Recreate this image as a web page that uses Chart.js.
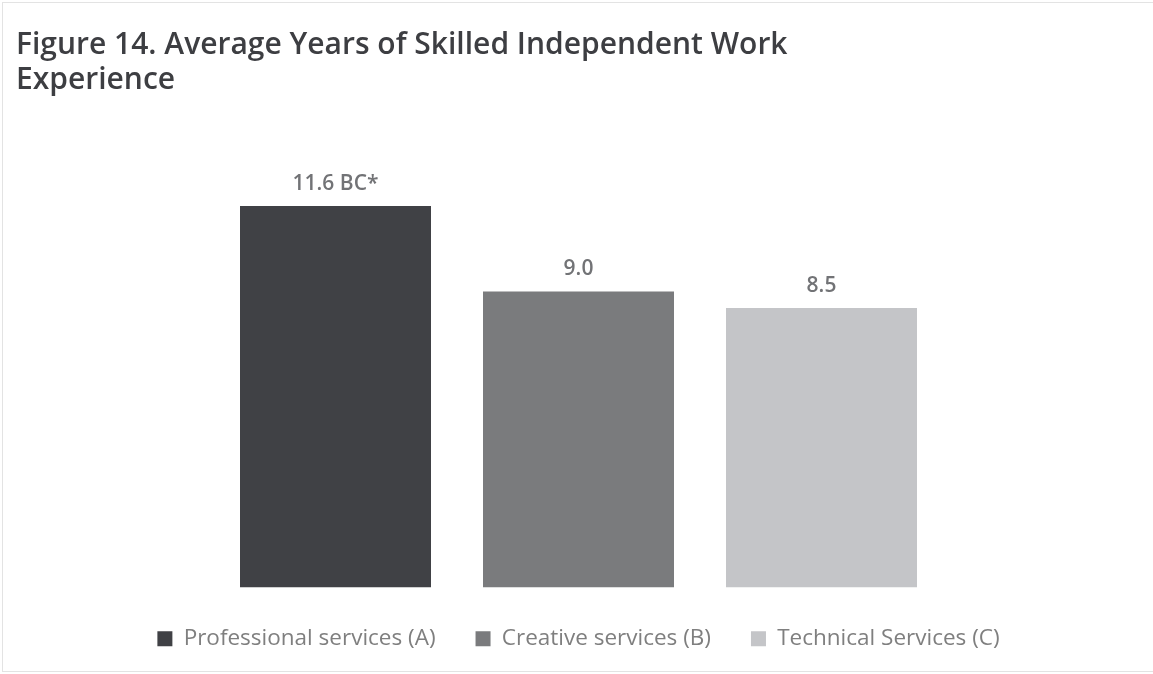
<!DOCTYPE html>
<html>
<head>
<meta charset="utf-8">
<script src="https://cdn.jsdelivr.net/npm/chart.js@4.4.1/dist/chart.umd.min.js"></script>
<style>
  html, body { margin: 0; padding: 0; background: #ffffff; }
  #wrap { position: relative; width: 1153px; height: 674px; }
  #frame { position: absolute; left: 2px; top: 2px; width: 1152px; height: 670px; border: 1px solid #e3e3e3; border-right: none; box-sizing: border-box; pointer-events: none; }
</style>
</head>
<body>
<div id="wrap">
  <canvas id="chart" width="1153" height="674"></canvas>
  <div id="frame"></div>
</div>
<script>
// Chart content
const titleLines = ['Figure 14. Average Years of Skilled Independent Work', 'Experience'];
const categories = ['Skilled independent work experience'];
const seriesLabels = ['Professional services (A)', 'Creative services (B)', 'Technical Services (C)'];
const seriesValues = [11.6, 9.0, 8.5];
const significance = ['BC*', '', ''];
const seriesColors = ['#404145', '#7a7b7d', '#c4c5c8'];

const FONT = '"Open Sans", Lato, sans-serif';

// Value label above each bar, with significance letters
const valueLabels = {
  id: 'valueLabels',
  afterDatasetsDraw(chart) {
    const ctx = chart.ctx;
    ctx.save();
    ctx.font = '600 21px ' + FONT;
    ctx.fillStyle = '#727376';
    ctx.textAlign = 'center';
    ctx.textBaseline = 'alphabetic';
    chart.data.datasets.forEach((ds, i) => {
      const bar = chart.getDatasetMeta(i).data[0];
      const txt = seriesValues[i].toFixed(1) + (significance[i] ? ' ' + significance[i] : '');
      ctx.fillText(txt, bar.x, bar.y - 16);
    });
    ctx.restore();
  }
};

// Extra room below the legend row
const legendSpacing = {
  id: 'legendSpacing',
  beforeInit(chart) {
    const fit = chart.legend.fit;
    chart.legend.fit = function () {
      fit.call(this);
      this.height += 12;
    };
  }
};

new Chart(document.getElementById('chart'), {
  type: 'bar',
  data: {
    labels: categories,
    datasets: seriesLabels.map((label, i) => ({
      label,
      data: [seriesValues[i]],
      backgroundColor: seriesColors[i],
      borderWidth: 0
    }))
  },
  options: {
    responsive: false,
    animation: false,
    layout: { padding: { left: 16, right: 12, top: 28, bottom: 2 } },
    datasets: { bar: { categoryPercentage: 0.648, barPercentage: 0.786 } },
    scales: {
      x: { display: false },
      y: { display: false, min: 0, max: 12.45 }
    },
    plugins: {
      title: {
        display: true,
        text: titleLines,
        align: 'start',
        color: '#3d3e42',
        font: { family: FONT, size: 30, weight: '600', lineHeight: 35 / 30 },
        padding: { top: 0, bottom: 80 }
      },
      legend: {
        position: 'bottom',
        labels: {
          color: '#7f7f7f',
          font: { family: FONT, size: 22.5 },
          boxWidth: 15,
          boxHeight: 15,
          padding: 40
        }
      },
      tooltip: { enabled: false }
    }
  },
  plugins: [valueLabels, legendSpacing]
});
</script>
</body>
</html>
